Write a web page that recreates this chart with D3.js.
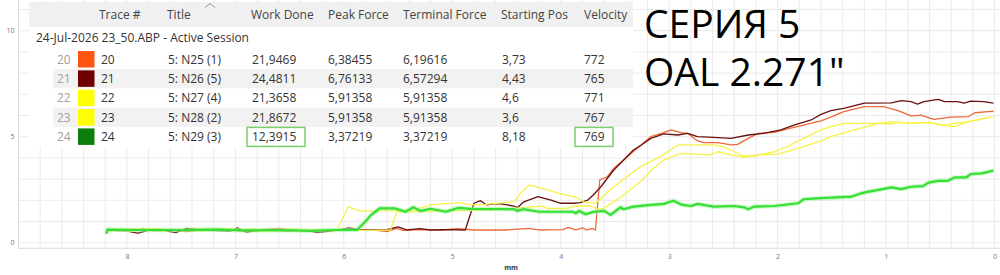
<!DOCTYPE html>
<html>
<head>
<meta charset="utf-8">
<script src="https://cdn.jsdelivr.net/npm/d3@7"></script>
<style>
  body { margin: 0; background: #fff; }
  svg { display: block; font-family: "Open Sans", sans-serif; }
</style>
</head>
<body>
<div class="chart"></div>
<script>
// Force vs position traces, session 24-Jul-2026

// table data
var rowIndex = ["20", "21", "22", "23", "24"];
var traceIds = ["20", "21", "22", "23", "24"];
var titles = ["5: N25 (1)", "5: N26 (5)", "5: N27 (4)", "5: N28 (2)", "5: N29 (3)"];
var workDone = ["21,9469", "24,4811", "21,3658", "21,8672", "12,3915"];
var peakForce = ["6,38455", "6,76133", "5,91358", "5,91358", "3,37219"];
var terminalForce = ["6,19616", "6,57294", "5,91358", "5,91358", "3,37219"];
var startingPos = ["3,73", "4,43", "4,6", "3,6", "8,18"];
var velocity = ["772", "765", "771", "767", "769"];
var headers = ["Trace #", "Title", "Work Done", "Peak Force", "Terminal Force", "Starting Pos", "Velocity"];
var sessionName = "24-Jul-2026 23_50.ABP - Active Session";

// axis ticks
var xTicks = [0, 1, 2, 3, 4, 5, 6, 7, 8];
var yTicks = [0, 5, 10];

// traces: [position mm, force]
var trace20 = [[8.18,0.6],[7.95,0.58],[7.85,0.68],[7.75,0.55],[7.6,0.6],[7.45,0.52],[7.3,0.6],[7.1,0.66],[6.95,0.55],
  [6.8,0.6],[6.6,0.68],[6.45,0.6],[6.3,0.55],[6.1,0.6],[5.9,0.6],[5.7,0.58],[5.6,0.52],[5.52,0.68],[5.45,0.58],
  [5.3,0.62],[5.1,0.6],[4.95,0.66],[4.8,0.6],[4.5,0.6],[4.3,0.68],[4.2,0.6],[3.98,0.62],[3.93,0.72],[3.86,0.6],
  [3.8,0.7],[3.76,0.6],[3.71,0.66],[3.68,0.6],[3.64,2.96],[3.57,3.11],[3.51,3.51],[3.42,3.9],[3.33,4.3],[3.26,4.6],
  [3.17,5.0],[3.05,5.19],[2.98,5.32],[2.89,5.19],[2.83,5.16],[2.74,4.81],[2.68,4.72],[2.55,4.72],[2.43,4.61],
  [2.37,4.64],[2.27,4.92],[2.18,5.16],[2.03,5.21],[1.88,5.4],[1.76,5.55],[1.6,5.75],[1.51,5.92],[1.39,6.18],
  [1.2,6.42],[1.02,6.42],[0.89,6.23],[0.77,5.98],[0.68,6.02],[0.56,5.82],[0.4,5.92],[0.24,5.95],[0.18,6.13],
  [0.06,6.18],[0.01,6.2]];
var trace21 = [[8.18,0.6],[8.0,0.55],[7.9,0.45],[7.8,0.58],[7.7,0.62],[7.55,0.48],[7.45,0.68],[7.3,0.6],[7.05,0.55],
  [6.98,0.7],[6.9,0.5],[6.75,0.6],[6.55,0.55],[6.35,0.6],[6.25,0.48],[6.05,0.6],[5.95,0.7],[5.85,0.6],[5.6,0.62],
  [5.5,0.75],[5.42,0.6],[5.3,0.66],[5.2,0.6],[5.05,0.62],[4.88,0.6],[4.8,1.86],[4.74,1.98],[4.68,1.78],[4.62,1.83],
  [4.55,1.83],[4.43,1.73],[4.4,1.65],[4.34,1.93],[4.21,2.17],[4.16,2.1],[4.09,2.01],[4.0,1.86],[3.88,1.86],
  [3.82,1.89],[3.75,2.01],[3.7,2.25],[3.63,2.64],[3.57,3.04],[3.51,3.43],[3.42,3.9],[3.33,4.37],[3.26,4.6],
  [3.17,4.92],[3.05,5.13],[2.92,5.08],[2.83,5.16],[2.74,5.0],[2.59,4.97],[2.43,4.92],[2.27,5.08],[2.13,5.16],
  [1.97,5.32],[1.85,5.55],[1.69,5.79],[1.6,6.05],[1.51,6.23],[1.39,6.34],[1.2,6.58],[0.95,6.6],[0.86,6.7],
  [0.77,6.65],[0.71,6.54],[0.65,6.65],[0.52,6.76],[0.46,6.65],[0.34,6.65],[0.28,6.58],[0.22,6.68],[0.1,6.65],
  [0.01,6.58]];
var trace22 = [[8.18,0.6],[7.9,0.66],[7.7,0.55],[7.5,0.62],[7.3,0.55],[7.1,0.66],[6.9,0.6],[6.7,0.52],[6.5,0.65],
  [6.3,0.6],[6.06,0.62],[5.96,1.7],[5.86,1.5],[5.63,1.5],[5.36,1.55],[5.2,1.78],[4.93,1.89],[4.83,1.78],[4.74,1.78],
  [4.43,1.93],[4.37,2.33],[4.29,2.72],[4.18,2.57],[4.12,2.49],[4.0,2.3],[3.85,2.14],[3.79,1.93],[3.68,1.86],
  [3.63,2.1],[3.51,2.64],[3.39,3.11],[3.26,3.6],[3.08,4.06],[2.92,4.61],[2.59,4.61],[2.5,4.53],[2.4,4.29],
  [2.31,4.09],[2.22,4.09],[2.13,4.18],[2.03,4.29],[1.91,4.53],[1.76,4.92],[1.6,5.32],[1.51,5.47],[1.39,5.63],
  [1.07,5.63],[0.95,5.71],[0.77,5.63],[0.61,5.68],[0.46,5.55],[0.37,5.63],[0.24,5.71],[0.06,5.9],[0.01,5.91]];
var trace23 = [[8.18,0.6],[7.95,0.55],[7.8,0.68],[7.5,0.6],[7.25,0.66],[7.0,0.58],[6.85,0.66],[6.6,0.55],[6.4,0.62],
  [6.2,0.6],[6.0,0.6],[5.8,0.58],[5.57,0.6],[5.51,1.46],[5.29,1.46],[5.02,1.5],[4.65,1.54],[4.43,1.62],[4.18,1.73],
  [4.12,1.62],[3.94,1.62],[3.88,1.73],[3.72,1.73],[3.66,1.58],[3.6,1.62],[3.42,2.25],[3.26,2.9],[3.17,3.4],
  [3.05,3.9],[2.89,4.21],[2.74,4.18],[2.62,4.14],[2.55,4.29],[2.43,4.14],[2.31,4.03],[2.18,4.14],[2.0,4.18],
  [1.81,4.45],[1.6,4.8],[1.51,5.0],[1.29,5.32],[1.07,5.63],[0.95,5.6],[0.89,5.68],[0.77,5.63],[0.61,5.68],
  [0.46,5.52],[0.37,5.47],[0.24,5.71],[0.15,5.79],[0.06,5.91]];
var trace24 = [[8.19,0.42],[8.18,0.62],[7.9,0.6],[7.5,0.6],[7.2,0.62],[6.9,0.58],[6.6,0.6],[6.3,0.56],[6.1,0.6],
  [5.88,0.6],[5.8,1.0],[5.75,1.3],[5.67,1.62],[5.53,1.62],[5.43,1.46],[5.36,1.67],[5.29,1.5],[5.2,1.6],[5.06,1.46],
  [4.95,1.64],[4.83,1.6],[4.43,1.58],[4.4,1.5],[4.35,1.58],[4.2,1.46],[3.89,1.46],[3.86,1.39],[3.83,1.5],
  [3.77,1.34],[3.7,1.45],[3.6,1.5],[3.54,1.31],[3.45,1.67],[3.42,1.58],[3.33,1.7],[3.17,1.78],[3.05,1.83],
  [2.96,1.98],[2.89,1.8],[2.8,1.73],[2.74,1.83],[2.59,1.7],[2.4,1.73],[2.31,1.67],[2.27,1.58],[2.22,1.7],
  [2.03,1.73],[1.81,1.86],[1.76,2.05],[1.6,2.1],[1.32,2.17],[1.23,2.33],[1.17,2.4],[1.07,2.49],[0.95,2.61],
  [0.86,2.53],[0.77,2.64],[0.66,2.67],[0.61,2.83],[0.52,2.92],[0.43,2.92],[0.37,3.08],[0.26,3.08],[0.22,3.24],
  [0.12,3.27],[0.01,3.4]];
var traces = [trace20, trace21, trace22, trace23, trace24];

// colours
var swatchColors = ["#ff5412", "#700000", "#ffff00", "#ffff00", "#0b7f0b"];
var lineColors = ["#ec6a38", "#6a1010", "#f6f245", "#f6f245", "#35df35"];

var svgWidth = 1000;
var svgHeight = 275;

var svg = d3.select(".chart")
  .append("svg")
  .attr("width", svgWidth)
  .attr("height", svgHeight);

// scales
var xScale = d3.scaleLinear().domain([9, 0]).range([18.5, 994.5]);
var yScale = d3.scaleLinear().domain([0, 10]).range([242.7, 30.7]);
var plotBottom = 248.3;

// grid
var grid = svg.append("g");
grid.selectAll(".vgrid")
  .data(d3.range(0, 46).map(i => i * 0.2))
  .enter()
  .append("line")
  .attr("x1", d => xScale(d)).attr("x2", d => xScale(d))
  .attr("y1", 0).attr("y2", plotBottom)
  .attr("stroke", "#ebebeb").attr("stroke-width", 1);
grid.selectAll(".hgrid")
  .data(d3.range(0, 12))
  .enter()
  .append("line")
  .attr("x1", xScale(9)).attr("x2", 1000)
  .attr("y1", d => yScale(d)).attr("y2", d => yScale(d))
  .attr("stroke", "#ebebeb").attr("stroke-width", 1);
grid.append("line")
  .attr("x1", xScale(9)).attr("x2", 1000)
  .attr("y1", plotBottom).attr("y2", plotBottom)
  .attr("stroke", "#dcdcdc");
grid.append("line")
  .attr("x1", xScale(9)).attr("x2", xScale(9))
  .attr("y1", 0).attr("y2", plotBottom)
  .attr("stroke", "#dcdcdc");

// axes
var xAxis = svg.append("g")
  .attr("transform", `translate(0, ${plotBottom})`)
  .call(d3.axisBottom(xScale).tickValues(xTicks).tickSize(0).tickPadding(6).tickFormat(d3.format("d")));
var yAxis = svg.append("g")
  .attr("transform", `translate(${xScale(9)}, 0)`)
  .call(d3.axisLeft(yScale).tickValues(yTicks).tickSize(0).tickPadding(4).tickFormat(d3.format("d")));
[xAxis, yAxis].forEach(function(a) {
  a.select(".domain").remove();
  a.selectAll("text")
    .attr("fill", "#777")
    .style("font-size", "7px")
    .style("font-family", "'Open Sans', sans-serif");
});

svg.append("text")
  .attr("x", 511)
  .attr("y", 270)
  .attr("text-anchor", "middle")
  .attr("font-size", 7)
  .attr("font-weight", "bold")
  .attr("fill", "#333")
  .text("mm");

// lines
var lineGen = d3.line()
  .x(d => xScale(d[0]))
  .y(d => yScale(d[1]));

var linesGroup = svg.append("g").attr("fill", "none");
traces.forEach(function(t, i) {
  if (i === 4) {
    linesGroup.append("path")
      .attr("d", lineGen(t))
      .attr("stroke", "#a8f5a0")
      .attr("stroke-width", 4.5)
      .attr("stroke-opacity", 0.6)
      .attr("stroke-linejoin", "round");
  }
  linesGroup.append("path")
    .attr("d", lineGen(t))
    .attr("stroke", lineColors[i])
    .attr("stroke-width", i === 4 ? 2.2 : 1.3)
    .attr("stroke-linejoin", "round");
});

// table overlay
var table = svg.append("g");
table.append("rect")
  .attr("x", 29).attr("y", 2).attr("width", 604).attr("height", 145)
  .attr("fill", "#fff");
table.append("rect")
  .attr("x", 29).attr("y", 2).attr("width", 604).attr("height", 25)
  .attr("fill", "#f0f0f0");
table.append("path")
  .attr("d", "M205,7.5 L210,3.5 L215,7.5")
  .attr("fill", "none")
  .attr("stroke", "#999")
  .attr("stroke-width", 1);

var colX = [99, 167, 251, 328, 403, 501, 584];
table.selectAll(".hdr")
  .data(headers)
  .enter()
  .append("text")
  .attr("x", (d, i) => colX[i])
  .attr("y", 15)
  .attr("dy", "0.35em")
  .attr("font-size", 12)
  .attr("fill", "#444")
  .text(d => d);

table.append("text")
  .attr("x", 36)
  .attr("y", 38)
  .attr("dy", "0.35em")
  .attr("font-size", 12)
  .attr("fill", "#333")
  .text(sessionName);

var rowY = d3.scaleLinear().domain([0, 4]).range([59.3, 136.7]);
var rowH = 19.35;

var rows = table.selectAll(".row")
  .data(traceIds)
  .enter()
  .append("g")
  .attr("transform", (d, i) => `translate(0, ${rowY(i)})`);

rows.filter((d, i) => i % 2 === 1)
  .append("rect")
  .attr("x", 53).attr("y", -rowH / 2).attr("width", 580).attr("height", rowH)
  .attr("fill", "#f2f2f2");

rows.append("text")
  .attr("x", 57).attr("dy", "0.35em")
  .attr("font-size", 12).attr("fill", "#a0a0a0")
  .text((d, i) => rowIndex[i]);

rows.append("rect")
  .attr("x", 78).attr("y", -8.3).attr("width", 16.5).attr("height", 16.5)
  .attr("fill", (d, i) => swatchColors[i]);

var cols = [traceIds, titles, workDone, peakForce, terminalForce, startingPos, velocity];
var cellX = [101, 168, 252, 328, 403, 502, 584];
cols.forEach(function(col, c) {
  rows.append("text")
    .attr("x", cellX[c]).attr("dy", "0.35em")
    .attr("font-size", 12).attr("fill", "#333")
    .text((d, i) => col[i]);
});

// highlight boxes on last row
var lastRow = rowY(4);
table.append("rect")
  .attr("x", 247).attr("y", lastRow - 9.3).attr("width", 58).attr("height", 19)
  .attr("fill", "none").attr("stroke", "#79cf6e").attr("stroke-width", 1.5);
table.append("rect")
  .attr("x", 575).attr("y", lastRow - 9.3).attr("width", 38).attr("height", 19)
  .attr("fill", "none").attr("stroke", "#79cf6e").attr("stroke-width", 1.5);

// big annotation
var note = svg.append("g")
  .attr("font-size", 39)
  .attr("fill", "#000");
note.append("text").attr("x", 644).attr("y", 37.5).text("СЕРИЯ 5");
note.append("text").attr("x", 644).attr("y", 85.5).text("OAL 2.271\"");
</script>
</body>
</html>
